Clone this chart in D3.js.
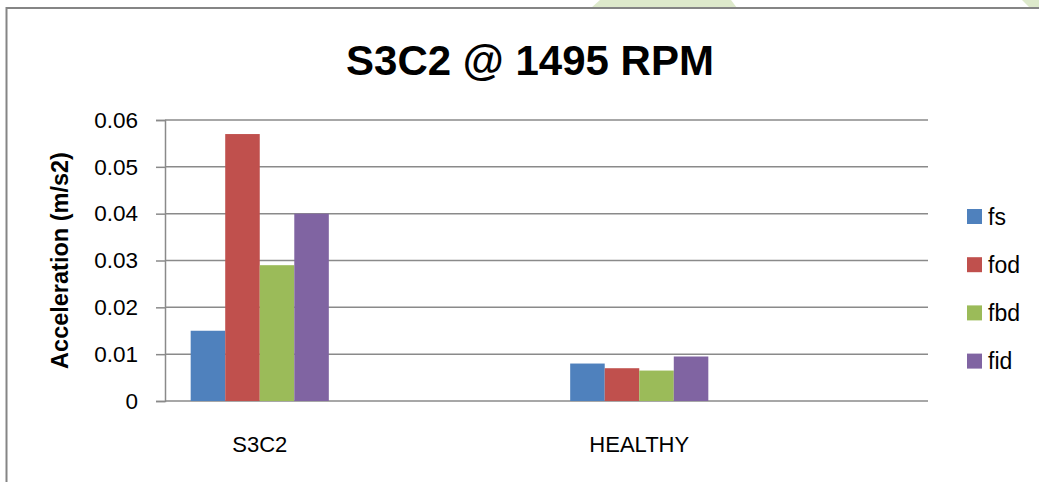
<!DOCTYPE html>
<html>
<head>
<meta charset="utf-8">
<script src="https://cdn.jsdelivr.net/npm/d3@7.9.0/dist/d3.min.js"></script>
<style>
  html, body { margin: 0; padding: 0; background: #fff; }
  svg { display: block; font-family: "Liberation Sans", Arial, sans-serif; }
</style>
</head>
<body>
<svg id="chart"></svg>
<script>
const categories = ["S3C2", "HEALTHY"];
const series = ["fs", "fod", "fbd", "fid"];
const colors = ["#4F81BD", "#C0504D", "#9BBB59", "#8064A2"];
const s3c2Values = [0.015, 0.057, 0.029, 0.040];
const healthyValues = [0.008, 0.007, 0.0065, 0.0095];
const yTicks = [0, 0.01, 0.02, 0.03, 0.04, 0.05, 0.06];

const width = 1039, height = 482;
const plot = { left: 165, right: 928, top: 120, bottom: 401 };

const rows = [s3c2Values, healthyValues].map((vals, i) => ({
    category: categories[i],
    values: vals.map((v, j) => ({ key: series[j], value: v }))
}));

const svg = d3.select("#chart")
    .attr("width", width)
    .attr("height", height);

// page background bits above the chart frame
svg.append("polygon")
    .attr("points", "600,0 731,0 737,8 591,8")
    .attr("fill", "#dde9cb");
svg.append("polygon")
    .attr("points", "1022,0 1039,0 1039,8 1030,8")
    .attr("fill", "#dde9cb");

// chart frame
svg.append("rect")
    .attr("x", 6.5)
    .attr("y", 8)
    .attr("width", 1100)
    .attr("height", 600)
    .attr("fill", "#fff")
    .attr("stroke", "#858585")
    .attr("stroke-width", 2);

const x0 = d3.scaleBand()
    .domain(categories)
    .range([70, 829]);

const groupWidth = x0.bandwidth() * 0.364;

const x1 = d3.scaleBand()
    .domain(series)
    .range([0, groupWidth]);

const y = d3.scaleLinear()
    .domain([0, 0.06])
    .range([plot.bottom, plot.top]);

const color = d3.scaleOrdinal()
    .domain(series)
    .range(colors);

// gridlines
svg.append("g")
    .selectAll("line")
    .data(yTicks)
    .enter()
    .append("line")
    .attr("x1", plot.left)
    .attr("x2", plot.right)
    .attr("y1", d => y(d))
    .attr("y2", d => y(d))
    .attr("stroke", "#8a8a8a")
    .attr("stroke-width", 1.5);

// y axis
const yAxis = svg.append("g")
    .attr("transform", `translate(${plot.left},0)`)
    .call(d3.axisLeft(y)
        .tickValues(yTicks)
        .tickSize(9)
        .tickPadding(18)
        .tickFormat(d => d === 0 ? "0" : d.toFixed(2)));

yAxis.select(".domain")
    .attr("stroke", "#8a8a8a")
    .attr("stroke-width", 1.5);
yAxis.selectAll(".tick line")
    .attr("stroke", "#8a8a8a")
    .attr("stroke-width", 1.5);
yAxis.selectAll(".tick text")
    .style("font-size", "22.5px")
    .attr("fill", "#000");

// bars
svg.append("g")
    .selectAll("g")
    .data(rows)
    .enter()
    .append("g")
    .attr("transform", d => `translate(${x0(d.category) + (x0.bandwidth() - groupWidth) / 2},0)`)
    .selectAll("rect")
    .data(d => d.values)
    .enter()
    .append("rect")
    .attr("x", d => x1(d.key))
    .attr("width", x1.bandwidth())
    .attr("y", d => y(d.value))
    .attr("height", d => y(0) - y(d.value))
    .attr("fill", d => color(d.key));

// category labels
svg.append("g")
    .selectAll("text")
    .data(categories)
    .enter()
    .append("text")
    .attr("x", d => x0(d) + x0.bandwidth() / 2)
    .attr("y", 452)
    .attr("text-anchor", "middle")
    .style("font-size", "22px")
    .text(d => d);

// title
svg.append("text")
    .attr("x", 530)
    .attr("y", 75)
    .attr("text-anchor", "middle")
    .style("font-size", "42px")
    .style("font-weight", "bold")
    .text("S3C2 @ 1495 RPM");

// y axis title
svg.append("text")
    .attr("transform", `translate(68, ${(plot.top + plot.bottom) / 2}) rotate(-90)`)
    .attr("text-anchor", "middle")
    .style("font-size", "23.5px")
    .style("font-weight", "bold")
    .text("Acceleration (m/s2)");

// legend
const legend = svg.append("g")
    .selectAll("g")
    .data(series)
    .enter()
    .append("g")
    .attr("transform", (d, i) => `translate(967, ${216.5 + i * 48.2})`);

legend.append("rect")
    .attr("x", 0)
    .attr("y", -7.5)
    .attr("width", 15)
    .attr("height", 15)
    .attr("fill", d => color(d));

legend.append("text")
    .attr("x", 21)
    .attr("y", 0)
    .attr("dy", "0.36em")
    .style("font-size", "23px")
    .text(d => d);
</script>
</body>
</html>
